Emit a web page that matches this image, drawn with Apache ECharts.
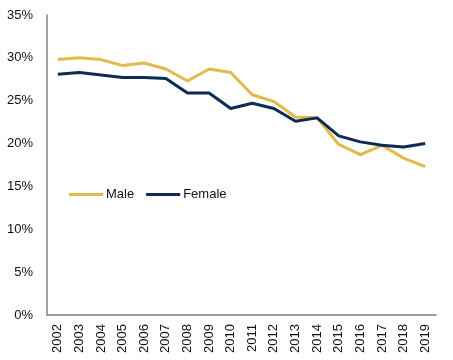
<!DOCTYPE html>
<html>
<head>
<meta charset="utf-8">
<script src="https://cdn.jsdelivr.net/npm/echarts@6/dist/echarts.min.js"></script>
<style>html,body{margin:0;padding:0;background:#fff;}#c{width:453px;height:360px;}</style>
</head>
<body>
<div id="c"></div>
<script>
const years = ['2002','2003','2004','2005','2006','2007','2008','2009','2010','2011','2012','2013','2014','2015','2016','2017','2018','2019'];
const male = [29.8,30.0,29.8,29.1,29.4,28.7,27.3,28.7,28.3,25.7,24.9,23.1,23.0,19.9,18.7,19.8,18.3,17.3];
const female = [28.1,28.3,28.0,27.7,27.7,27.6,25.9,25.9,24.1,24.7,24.1,22.6,23.0,20.9,20.2,19.8,19.6,20.0];
const yTicks = [0,5,10,15,20,25,30,35];

const chart = echarts.init(document.getElementById('c'));
chart.setOption({
  animation: false,
  backgroundColor: '#fff',
  grid: {left: 47, right: 17, top: 15, bottom: 45},
  legend: {
    left: 69, top: 188, padding: 0,
    icon: 'rect', itemWidth: 34, itemHeight: 3, itemGap: 12,
    textStyle: {fontFamily: 'Liberation Sans', fontSize: 13, color: '#111', padding: [0,0,0,-2]},
    data: ['Male','Female']
  },
  xAxis: {
    type: 'category', data: years, boundaryGap: true,
    axisLine: {lineStyle: {color: '#808080', width: 1.5}},
    axisTick: {show: false},
    axisLabel: {rotate: 90, margin: 9, fontFamily: 'Liberation Sans', fontSize: 13, color: '#111', interval: 0}
  },
  yAxis: {
    type: 'value', min: 0, max: 35, interval: 5,
    axisLine: {show: true, lineStyle: {color: '#808080', width: 1.5}},
    axisTick: {show: false},
    splitLine: {show: false},
    axisLabel: {margin: 14, fontFamily: 'Liberation Sans', fontSize: 13, color: '#111',
      formatter: v => yTicks.includes(v) ? v + '%' : ''}
  },
  series: [
    {name: 'Male', type: 'line', data: male, symbol: 'none', lineStyle: {color: '#E2B94A', width: 3}, itemStyle: {color: '#E2B94A'}},
    {name: 'Female', type: 'line', data: female, symbol: 'none', lineStyle: {color: '#0C2C54', width: 3}, itemStyle: {color: '#0C2C54'}}
  ]
});
</script>
</body>
</html>
